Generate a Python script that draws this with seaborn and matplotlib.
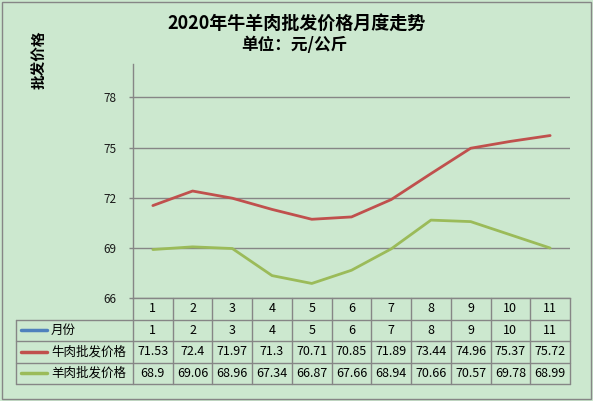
import matplotlib
matplotlib.use("Agg")
import matplotlib.pyplot as plt
import seaborn as sns
import pandas as pd
from matplotlib.patches import Rectangle
from matplotlib.lines import Line2D

# ---- data ----
months = [1, 2, 3, 4, 5, 6, 7, 8, 9, 10, 11]
beef = [71.53, 72.4, 71.97, 71.3, 70.71, 70.85, 71.89, 73.44, 74.96, 75.37, 75.72]
mutton = [68.9, 69.06, 68.96, 67.34, 66.87, 67.66, 68.94, 70.66, 70.57, 69.78, 68.99]
series_names = ["月份", "牛肉批发价格", "羊肉批发价格"]
yticks = [66, 69, 72, 75, 78]
title1 = "2020年牛羊肉批发价格月度走势"
title2 = "单位：元/公斤"
ylabel = "批发价格"

# ---- style ----
bg = "#CCE8CF"
grid_c = "#868686"
c_blue, c_red, c_green = "#4F81BD", "#C0504D", "#9BBB59"

sns.set_theme(style="white")
plt.rcParams['font.family'] = ['Noto Sans CJK SC', 'DejaVu Sans']

W, H = 593, 401
fig = plt.figure(figsize=(W / 100, H / 100), dpi=100, facecolor=bg)

def fx(px):
    return px / W

def fy(py):
    return 1 - py / H

L, R, T, B = 133, 570, 64, 298
ax = fig.add_axes([fx(L), fy(B), (R - L) / W, (B - T) / H])
ax.set_facecolor(bg)

df = pd.DataFrame({
    "月份": months * 2,
    "价格": beef + mutton,
    "系列": [series_names[1]] * len(months) + [series_names[2]] * len(months),
})
sns.lineplot(data=df, x="月份", y="价格", hue="系列",
             palette=[c_red, c_green], ax=ax, linewidth=2.0, legend=False)

ax.set_xlim(0.5, 11.5)
ax.set_ylim(66, 80)
ax.set_yticks(yticks)
ax.set_yticklabels([str(v) for v in yticks], fontsize=8.5, color="#1a1a1a")
ax.set_xticks([])
ax.set_xlabel("")
ax.set_ylabel("")
for v in yticks:
    ax.axhline(v, color=grid_c, lw=1, zorder=0)
for s in ["top", "right"]:
    ax.spines[s].set_visible(False)
for s in ["left", "bottom"]:
    ax.spines[s].set_color(grid_c)
    ax.spines[s].set_linewidth(1)
ax.tick_params(axis="y", length=3, width=1, color=grid_c, pad=9, left=True)

# titles
fig.text(fx(297), fy(23), title1, ha="center", va="center",
         fontsize=13, fontweight="bold", color="black")
fig.text(fx(294), fy(45), title2, ha="center", va="center",
         fontsize=12, fontweight="bold", color="black")
fig.text(fx(40), fy(60), ylabel, ha="center", va="center", rotation=90,
         fontsize=10.5, fontweight="bold", color="black")

# ---- data table ----
TL, TB = 16, 384
tax = fig.add_axes([fx(TL), fy(TB), (R - TL) / W, (TB - B) / H])
tax.axis("off")
colw = (R - L) / len(months)
x_left = 0.5 - (L - TL) / colw
tax.set_xlim(x_left, len(months) + 0.5)
tax.set_ylim(4, 0)

n = len(months)
for r in range(1, 5):
    tax.add_line(Line2D([x_left, n + 0.5], [r, r], color=grid_c, lw=1, clip_on=False))
for k in range(n + 1):
    tax.add_line(Line2D([k + 0.5, k + 0.5], [0, 4], color=grid_c, lw=1, clip_on=False))
tax.add_line(Line2D([x_left, x_left], [1, 4], color=grid_c, lw=1, clip_on=False))

rows = [months, beef, mutton]
colors = [c_blue, c_red, c_green]
fs = 9
for i, m in enumerate(months):
    tax.text(i + 1, 0.5, str(m), ha="center", va="center", fontsize=fs, color="black")
for r, (vals, name, col) in enumerate(zip(rows, series_names, colors), start=1):
    yc = r + 0.5
    tax.add_line(Line2D([x_left + 5 / colw, x_left + 31 / colw], [yc, yc],
                        color=col, lw=2.5, clip_on=False))
    tax.text(x_left + 35 / colw, yc, name, ha="left", va="center",
             fontsize=9, color="black")
    for i, v in enumerate(vals):
        tax.text(i + 1, yc, f"{v:g}", ha="center", va="center", fontsize=fs, color="black")

# outer border
fig.patches.append(Rectangle((fx(2), fy(399)), (591 - 2) / W, (399 - 2) / H,
                             transform=fig.transFigure, fill=False,
                             edgecolor=grid_c, lw=1))

fig.savefig("out.png", dpi=100, facecolor=bg)
